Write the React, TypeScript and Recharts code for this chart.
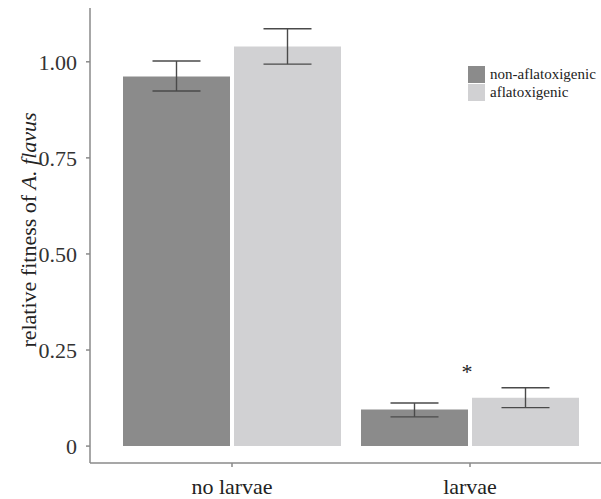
import React from 'react'
import {
  BarChart,
  Bar,
  XAxis,
  YAxis,
  ErrorBar,
  Legend,
  ReferenceDot,
} from 'recharts'

const categories = ['no larvae', 'larvae']
const nonAflaMean = [0.962, 0.095]
const nonAflaLow = [0.924, 0.076]
const nonAflaHigh = [1.002, 0.112]
const aflaMean = [1.04, 0.126]
const aflaLow = [0.994, 0.1]
const aflaHigh = [1.086, 0.152]
const yTicks = [0, 0.25, 0.5, 0.75, 1]
const yTickLabels = ['0', '0.25', '0.50', '0.75', '1.00']
const seriesNames = ['non-aflatoxigenic', 'aflatoxigenic']

const DARK = '#8b8b8b'
const LIGHT = '#d1d1d3'
const AXIS = '#8a8a8a'
const FONT = 'Liberation Serif, Times New Roman, serif'

const data = categories.map((name, i) => ({
  name,
  nonAfla: nonAflaMean[i],
  nonAflaErr: [nonAflaMean[i] - nonAflaLow[i], nonAflaHigh[i] - nonAflaMean[i]],
  afla: aflaMean[i],
  aflaErr: [aflaMean[i] - aflaLow[i], aflaHigh[i] - aflaMean[i]],
}))

const renderLegend = () => (
  <div style={{ fontFamily: FONT, fontSize: 15, color: '#222', lineHeight: '18px' }}>
    {seriesNames.map((n, i) => (
      <div key={n} style={{ display: 'flex', alignItems: 'center', height: 18 }}>
        <span
          style={{
            display: 'inline-block',
            width: 17,
            height: 17,
            background: i === 0 ? DARK : LIGHT,
            marginRight: 5,
          }}
        />
        {n}
      </div>
    ))}
  </div>
)

const YLabel = () => (
  <text
    x={36}
    y={230}
    transform="rotate(-90, 36, 230)"
    textAnchor="middle"
    fontSize={22}
    fontFamily={FONT}
    fill="#222"
  >
    relative fitness of <tspan fontStyle="italic">A. flavus</tspan>
  </text>
)

export default function App() {
  return (
    <div
      style={{
        position: 'absolute',
        left: 0,
        top: 0,
        width: 601,
        height: 499,
        overflow: 'hidden',
        background: '#fff',
      }}
    >
      <BarChart
        width={613}
        height={499}
        data={data}
        margin={{ top: 8, right: 0, left: 0, bottom: 0 }}
        barCategoryGap={10}
        barGap={4}
      >
        <XAxis
          dataKey="name"
          height={36}
          padding={{ left: 23, right: 24 }}
          stroke={AXIS}
          strokeWidth={1.5}
          tickSize={4}
          tickMargin={11}
          tick={{ fontSize: 22, fontFamily: FONT, fill: '#222' }}
        />
        <YAxis
          width={90}
          domain={[-0.044, 1.14]}
          ticks={yTicks}
          tickFormatter={(v: number) => yTickLabels[yTicks.indexOf(v)] ?? String(v)}
          stroke={AXIS}
          strokeWidth={1.5}
          tickSize={4}
          tickMargin={9}
          tick={{ fontSize: 22, fontFamily: FONT, fill: '#333' }}
          label={<YLabel />}
        />
        <Legend
          layout="vertical"
          align="center"
          verticalAlign="middle"
          content={renderLegend}
          wrapperStyle={{ left: 468, top: 65, width: 140 }}
        />
        <Bar dataKey="nonAfla" name={seriesNames[0]} fill={DARK} isAnimationActive={false}>
          <ErrorBar dataKey="nonAflaErr" width={24} stroke="#4a4a4a" strokeWidth={1.4} />
        </Bar>
        <Bar dataKey="afla" name={seriesNames[1]} fill={LIGHT} isAnimationActive={false}>
          <ErrorBar dataKey="aflaErr" width={24} stroke="#4a4a4a" strokeWidth={1.4} />
        </Bar>
        <ReferenceDot
          x="larvae"
          y={0.203}
          r={0}
          stroke="none"
          fill="none"
          label={(props: any) => {
            const vb = props.viewBox || {}
            const cx = (vb.x ?? 0) + (vb.width ?? 0) / 2
            const cy = (vb.y ?? 0) + (vb.height ?? 0) / 2
            return (
              <text x={cx - 3} y={cy + 11} textAnchor="middle" fontSize={22} fontFamily={FONT} fill="#222">
                *
              </text>
            )
          }}
        />
      </BarChart>
    </div>
  )
}
